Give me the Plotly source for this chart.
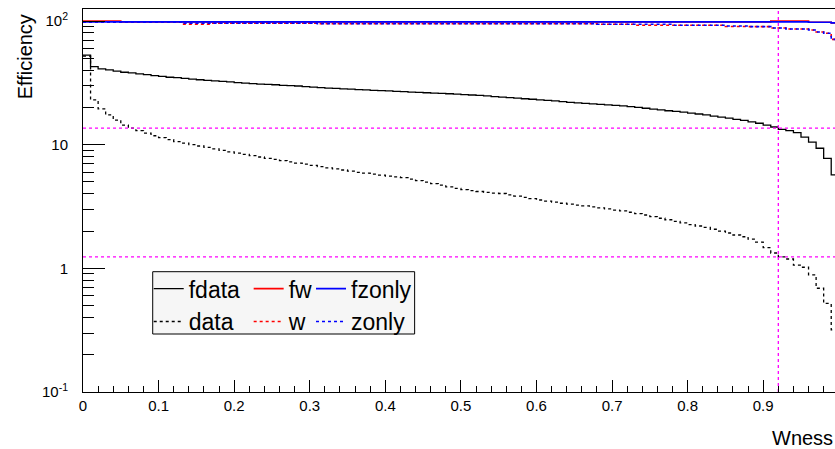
import plotly.graph_objects as go

# ---- data (100 bins of width 0.01 on Wness) ----
bin_width = 0.01
fdata = [53.0, 42.8, 41.0, 40.2, 39.3, 38.5, 38.0, 37.4, 36.8, 36.2,
         35.6, 35.1, 34.8, 34.4, 33.9, 33.5, 33.1, 32.8, 32.5, 32.2,
         31.8, 31.4, 31.2, 30.9, 30.7, 30.5, 30.2, 30.0, 29.8, 29.5,
         29.2, 28.9, 28.7, 28.5, 28.3, 28.1, 27.9, 27.7, 27.5, 27.3,
         27.2, 27.0, 26.8, 26.6, 26.5, 26.3, 26.1, 26.0, 25.8, 25.6,
         25.4, 25.2, 25.0, 24.8, 24.5, 24.2, 24.0, 23.8, 23.5, 23.3,
         23.0, 22.8, 22.6, 22.3, 22.0, 21.8, 21.6, 21.4, 21.2, 21.0,
         20.8, 20.6, 20.3, 20.0, 19.7, 19.4, 19.1, 18.8, 18.6, 18.3,
         18.0, 17.7, 17.4, 17.0, 16.7, 16.4, 16.0, 15.7, 15.3, 14.9,
         14.4, 13.9, 13.3, 13.0, 12.5, 11.5, 10.5, 9.35, 7.76, 5.69]
data = [52.0, 23.0, 19.5, 17.4, 15.8, 14.4, 13.6, 13.0, 12.4, 11.8,
        11.4, 11.0, 10.6, 10.3, 10.0, 9.75, 9.5, 9.25, 9.0, 8.75,
        8.55, 8.35, 8.15, 7.95, 7.75, 7.6, 7.43, 7.25, 7.1, 6.95,
        6.8, 6.64, 6.5, 6.37, 6.24, 6.1, 5.98, 5.88, 5.77, 5.67,
        5.57, 5.48, 5.41, 5.26, 5.12, 4.98, 4.84, 4.70, 4.56, 4.43,
        4.33, 4.25, 4.18, 4.11, 4.05, 4.03, 3.93, 3.84, 3.75, 3.66,
        3.57, 3.50, 3.43, 3.36, 3.30, 3.24, 3.20, 3.14, 3.08, 3.02,
        2.96, 2.91, 2.84, 2.77, 2.70, 2.62, 2.54, 2.47, 2.40, 2.33,
        2.26, 2.20, 2.14, 2.07, 2.00, 1.93, 1.86, 1.80, 1.72, 1.63,
        1.47, 1.33, 1.24, 1.19, 1.06, 1.02, 0.885, 0.69, 0.52, 0.318]
fw = [100.0, 100.0, 100.0, 100.0, 100.0, 98.3, 98.3, 98.3, 98.3, 98.3,
      98.3, 98.3, 98.3, 98.3, 98.3, 98.3, 98.3, 98.3, 98.3, 98.3,
      98.3, 98.3, 98.3, 98.3, 98.3, 98.3, 98.3, 98.3, 98.3, 98.3,
      98.3, 98.3, 98.3, 98.3, 98.3, 98.3, 98.3, 98.3, 98.3, 98.3,
      98.3, 98.3, 98.3, 98.3, 98.3, 98.3, 98.3, 98.3, 98.3, 98.3,
      98.3, 98.3, 98.3, 98.3, 98.3, 98.3, 98.3, 98.3, 98.3, 98.3,
      98.3, 98.3, 98.3, 98.3, 98.3, 98.3, 98.3, 98.3, 98.3, 98.3,
      98.3, 98.3, 98.3, 98.3, 98.3, 98.3, 98.3, 98.3, 98.3, 98.3,
      98.3, 98.3, 98.3, 98.3, 98.3, 98.3, 98.3, 98.3, 98.3, 98.3,
      98.3, 100.0, 100.0, 100.0, 100.0, 100.0, 97.8, 97.8, 97.8, 96.5]
fzonly = [98.3, 98.3, 98.3, 98.3, 98.3, 98.3, 98.3, 98.3, 98.3, 98.3,
          98.3, 98.3, 98.3, 98.3, 98.3, 98.3, 98.3, 98.3, 98.3, 98.3,
          98.3, 98.3, 98.3, 98.3, 98.3, 98.3, 98.3, 98.3, 98.3, 98.3,
          98.3, 98.3, 98.3, 98.3, 98.3, 98.3, 98.3, 98.3, 98.3, 98.3,
          98.3, 98.3, 98.3, 98.3, 98.3, 98.3, 98.3, 98.3, 98.3, 98.3,
          98.3, 98.3, 98.3, 98.3, 98.3, 98.3, 98.3, 98.3, 98.3, 98.3,
          98.3, 98.3, 98.3, 98.3, 98.3, 98.3, 98.3, 98.3, 98.3, 98.3,
          98.3, 98.3, 98.3, 98.3, 98.3, 98.3, 98.3, 98.3, 98.3, 98.3,
          98.3, 98.3, 98.3, 98.3, 98.3, 98.3, 98.3, 98.3, 98.3, 98.3,
          98.3, 98.3, 98.3, 98.3, 98.3, 98.3, 97.8, 97.8, 97.8, 96.5]
w = [98.3, 98.3, 98.3, 98.3, 98.3, 98.3, 98.3, 98.3, 98.3, 98.3,
     98.3, 98.3, 98.3, 94.4, 94.4, 94.4, 94.4, 95.8, 95.8, 95.8,
     95.8, 95.8, 95.8, 95.8, 95.8, 95.8, 95.8, 95.8, 95.8, 95.8,
     95.8, 95.0, 95.0, 95.0, 95.0, 95.0, 95.0, 95.0, 95.0, 95.0,
     95.0, 95.0, 95.0, 95.0, 95.0, 95.0, 95.0, 95.0, 95.0, 95.0,
     95.0, 95.0, 95.0, 95.0, 95.0, 95.0, 95.0, 95.0, 95.0, 95.0,
     95.0, 95.0, 95.0, 95.0, 95.0, 95.0, 95.0, 95.0, 94.0, 94.0,
     94.0, 94.0, 94.0, 92.5, 92.5, 92.5, 92.5, 92.5, 92.5, 92.5,
     92.5, 92.5, 92.5, 92.5, 92.5, 90.2, 90.2, 90.2, 90.0, 90.0,
     90.0, 87.8, 87.8, 86.2, 86.2, 86.2, 84.6, 81.5, 79.5, 71.0]
zonly = [98.3, 98.3, 98.3, 98.3, 98.3, 98.3, 98.3, 98.3, 98.3, 98.3,
         98.3, 98.3, 98.3, 95.8, 95.8, 95.8, 95.8, 95.8, 95.8, 95.8,
         95.8, 95.8, 95.8, 95.8, 95.8, 95.8, 95.8, 95.8, 95.8, 95.8,
         95.8, 95.0, 95.0, 95.0, 95.0, 95.0, 95.0, 95.0, 95.0, 95.0,
         95.0, 95.0, 95.0, 95.0, 95.0, 95.0, 95.0, 95.0, 95.0, 95.0,
         95.0, 95.0, 95.0, 95.0, 95.0, 95.0, 95.0, 95.0, 95.0, 95.0,
         95.0, 95.0, 95.0, 95.0, 95.0, 95.0, 95.0, 95.0, 94.0, 94.0,
         94.0, 94.0, 94.0, 94.0, 94.0, 94.0, 94.0, 94.0, 92.5, 92.5,
         92.5, 92.5, 92.5, 92.5, 92.5, 91.0, 91.0, 91.0, 90.0, 90.0,
         90.0, 87.8, 87.8, 86.2, 86.2, 86.2, 84.6, 81.5, 79.5, 71.0]

cut_wness = 0.92
cut_eff_fdata = 13.6
cut_eff_data = 1.24

y_tickvals = [0.1, 1, 10, 100]
y_ticktext = ["10<sup>-1</sup>", "1", "10", "10<sup>2</sup>"]
x_tickvals = [0, 0.1, 0.2, 0.3, 0.4, 0.5, 0.6, 0.7, 0.8, 0.9]
x_ticktext = ["0", "0.1", "0.2", "0.3", "0.4", "0.5", "0.6", "0.7", "0.8", "0.9"]

# ---- figure ----
nb = len(fdata)
edges = [i * bin_width for i in range(nb + 1)]


def step(vals):
    return vals + [vals[-1]]


FONT = "Liberation Sans, Arial, Helvetica, sans-serif"
fig = go.Figure()

series = [
    ("fdata", fdata, "black", "solid", 1.3, "legend"),
    ("data", data, "black", "3px,3px", 1.3, "legend"),
    ("fw", fw, "#ff0000", "solid", 1.6, "legend2"),
    ("w", w, "#ff0000", "3px,3px", 1.6, "legend2"),
    ("fzonly", fzonly, "#0000ff", "solid", 1.6, "legend3"),
    ("zonly", zonly, "#0000ff", "3px,3px", 1.6, "legend3"),
]
for name, vals, col, dash, wd, lg in series:
    fig.add_trace(go.Scatter(x=edges, y=step(vals), mode="lines", name=name,
                             line=dict(color=col, dash=dash, width=wd, shape="hv"),
                             legend=lg))

mag = dict(color="#ff00ff", dash="3px,3px", width=1.3)
fig.add_trace(go.Scatter(x=[0, 1], y=[cut_eff_fdata, cut_eff_fdata], mode="lines",
                         line=mag, showlegend=False, hoverinfo="skip"))
fig.add_trace(go.Scatter(x=[0, 1], y=[cut_eff_data, cut_eff_data], mode="lines",
                         line=mag, showlegend=False, hoverinfo="skip"))
fig.add_trace(go.Scatter(x=[cut_wness, cut_wness], y=[0.1, 130], mode="lines",
                         line=mag, showlegend=False, hoverinfo="skip"))

ymin_log, ymax_log = -1, 2.097
legend_common = dict(orientation="v", yanchor="top", xanchor="left", y=0.326,
                     bgcolor="rgba(0,0,0,0)", borderwidth=0,
                     font=dict(family=FONT, size=23, color="black"),
                     tracegroupgap=0, itemwidth=30)

fig.update_layout(
    width=835, height=449,
    margin=dict(l=83, r=0, t=9, b=57),
    paper_bgcolor="white", plot_bgcolor="white",
    font=dict(family=FONT, size=15, color="black"),
    xaxis=dict(range=[0, 0.995], showgrid=False, zeroline=False,
               showline=True, linecolor="black", linewidth=1, mirror=True,
               tickmode="array", tickvals=x_tickvals, ticktext=x_ticktext,
               ticks="inside", ticklen=12, tickcolor="black", tickwidth=1,
               ticklabelstandoff=0,
               minor=dict(ticks="inside", ticklen=6, dtick=0.02, tick0=0,
                          tickcolor="black", showgrid=False)),
    yaxis=dict(type="log", range=[ymin_log, ymax_log], showgrid=False,
               zeroline=False, showline=True, linecolor="black", linewidth=1,
               tickmode="array", tickvals=y_tickvals, ticktext=y_ticktext,
               ticks="inside", ticklen=22, tickcolor="black", tickwidth=1,
               ticklabelstandoff=11,
               minor=dict(ticks="inside", ticklen=11, tickcolor="black",
                          tickmode="array",
                          tickvals=[m * d for d in (0.1, 1, 10) for m in range(2, 10)],
                          showgrid=False)),
    legend=dict(x=0.0874, **legend_common),
    legend2=dict(x=0.2203, **legend_common),
    legend3=dict(x=0.3032, **legend_common),
    shapes=[dict(type="rect", xref="paper", yref="paper", x0=0.0927, x1=0.441,
                 y0=0.1514, y1=0.3141, line=dict(color="black", width=1),
                 fillcolor="#f6f6f6", layer="below")],
    annotations=[
        dict(text="Efficiency", xref="paper", yref="paper", x=-0.0771, y=0.99,
             xanchor="center", yanchor="top", textangle=-90, showarrow=False,
             font=dict(family=FONT, size=20, color="black")),
        dict(text="Wness", xref="paper", yref="paper", x=1.0, y=-0.12,
             xanchor="right", yanchor="middle", showarrow=False,
             font=dict(family=FONT, size=20, color="black")),
    ],
)

fig.write_html("out.html")
